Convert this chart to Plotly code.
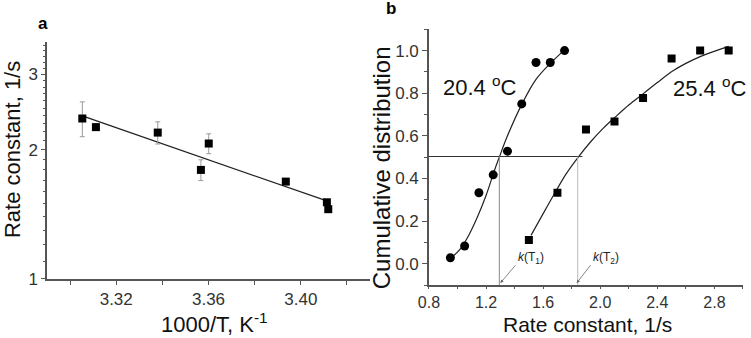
import numpy as np
import plotly.graph_objects as go

# ---------------- Panel a data ----------------
inv_T = [3.3053, 3.3112, 3.3380, 3.3567, 3.3601, 3.3935, 3.4113, 3.4119]
rate_a = [2.365, 2.258, 2.193, 1.795, 2.068, 1.686, 1.509, 1.454]
rate_a_err = [0.22, 0.04, 0.13, 0.10, 0.11, 0.0, 0.02, 0.0]

# ---------------- Panel b data ----------------
k_20 = [0.95, 1.05, 1.15, 1.25, 1.35, 1.45, 1.55, 1.65, 1.75]
cdf_20 = [0.028, 0.083, 0.333, 0.417, 0.528, 0.75, 0.944, 0.944, 1.0]
k_25 = [1.5, 1.7, 1.9, 2.1, 2.3, 2.5, 2.7, 2.9]
cdf_25 = [0.111, 0.333, 0.630, 0.667, 0.778, 0.963, 1.0, 1.0]

# fitted curves
fit20_x = [0.96, 1.02, 1.08, 1.14, 1.20, 1.26, 1.293, 1.35, 1.452, 1.55, 1.65, 1.745]
fit20_y = [0.03, 0.07, 0.135, 0.22, 0.32, 0.44, 0.50, 0.60, 0.75, 0.865, 0.94, 1.0]
fit25_x = [1.515, 1.60, 1.683, 1.76, 1.846, 1.93, 2.02, 2.10, 2.20, 2.30, 2.40, 2.51, 2.60, 2.70, 2.90]
fit25_y = [0.133, 0.235, 0.333, 0.42, 0.50, 0.57, 0.635, 0.685, 0.745, 0.797, 0.85, 0.905, 0.94, 0.972, 1.02]

k_T1 = 1.293
k_T2 = 1.842
half_level = 0.503

FONT = "Liberation Sans, Arial, sans-serif"
AX = "#555555"

# regression (Arrhenius) line for panel a
slope, icpt = np.polyfit(inv_T, np.log10(rate_a), 1)
line_x = np.array([min(inv_T), max(inv_T)])
line_y = 10 ** (icpt + slope * line_x)

fig = go.Figure()

fig.add_trace(go.Scatter(x=line_x, y=line_y, mode="lines",
                         line=dict(color="#222222", width=1.3),
                         xaxis="x", yaxis="y", showlegend=False))
fig.add_trace(go.Scatter(x=inv_T, y=rate_a, mode="markers",
                         marker=dict(symbol="square", size=8, color="black"),
                         error_y=dict(type="data", array=rate_a_err, color="#999999",
                                      thickness=1, width=2.5),
                         xaxis="x", yaxis="y", showlegend=False))

fig.add_trace(go.Scatter(x=fit20_x, y=fit20_y, mode="lines", line_shape="spline",
                         line=dict(color="#222222", width=1.2),
                         xaxis="x2", yaxis="y2", showlegend=False))
fig.add_trace(go.Scatter(x=fit25_x, y=fit25_y, mode="lines", line_shape="spline",
                         line=dict(color="#222222", width=1.2),
                         xaxis="x2", yaxis="y2", showlegend=False))
fig.add_trace(go.Scatter(x=k_20, y=cdf_20, mode="markers",
                         marker=dict(symbol="circle", size=9, color="black"),
                         xaxis="x2", yaxis="y2", showlegend=False))
fig.add_trace(go.Scatter(x=k_25, y=cdf_25, mode="markers",
                         marker=dict(symbol="square", size=8, color="black"),
                         xaxis="x2", yaxis="y2", showlegend=False))

shapes = [
    dict(type="line", xref="x2", yref="y2", x0=0.8, x1=1.875, y0=half_level, y1=half_level,
         line=dict(color="#333333", width=1)),
    dict(type="line", xref="x2", yref="y2", x0=k_T1, x1=k_T1, y0=-0.1, y1=half_level,
         line=dict(color="#888888", width=1)),
    dict(type="line", xref="x2", yref="y2", x0=k_T2, x1=k_T2, y0=-0.1, y1=half_level,
         line=dict(color="#bbbbbb", width=1)),
]

tickfont = dict(family=FONT, size=17, color="#333333")
common = dict(showline=True, linecolor=AX, linewidth=1.5, ticks="outside", tickcolor=AX,
              tickwidth=1, showgrid=False, zeroline=False, tickfont=tickfont,
              automargin=False)

minor_log = [round(v, 1) for v in list(np.arange(1.1, 2.0, 0.1)) + list(np.arange(2.1, 3.0, 0.1)) + list(np.arange(3.1, 3.6, 0.1))]


def ann(text, x, y, ref="paper", size=22, angle=0, color="#111"):
    return dict(text=text, x=x, y=y, xref=ref if ref == "paper" else "x2",
                yref=ref if ref == "paper" else "y2", xanchor="center", yanchor="middle",
                textangle=angle, showarrow=False, font=dict(family=FONT, size=size, color=color))


annotations = [
    ann("Rate constant, 1/s", 0.016, 0.556, angle=-90, size=22),
    ann("1000/T, K<sup>-1</sup>", 0.285, 0.044, size=22),
    ann("Cumulative distribution", 0.509, 0.503, angle=-90, size=24),
    ann("Rate constant, 1/s", 0.782, 0.041, size=21),
    ann("<b>a</b>", 0.057, 0.929, size=17, color="black"),
    ann("<b>b</b>", 0.521, 0.976, size=17, color="black"),
    ann("20.4 <sup>o</sup>C", 1.157, 0.836, ref="data", size=22),
    ann("25.4 <sup>o</sup>C", 2.769, 0.831, ref="data", size=22),
    ann("<i>k</i>(T<sub>1</sub>)", 1.513, 0.025, ref="data", size=12, color="#222"),
    ann("<i>k</i>(T<sub>2</sub>)", 2.039, 0.025, ref="data", size=12, color="#222"),
    dict(text="", x=1.30, y=-0.091, xref="x2", yref="y2", ax=1.415, ay=0.0,
         axref="x2", ayref="y2", showarrow=True, arrowhead=2, arrowsize=0.8,
         arrowwidth=0.8, arrowcolor="#666666"),
    dict(text="", x=1.835, y=-0.091, xref="x2", yref="y2", ax=1.94, ay=0.0,
         axref="x2", ayref="y2", showarrow=True, arrowhead=2, arrowsize=0.8,
         arrowwidth=0.8, arrowcolor="#666666"),
]

common_b = dict(common)
common_b["tickfont"] = dict(family=FONT, size=16, color="#333333")

fig.update_layout(
    width=751, height=338, margin=dict(l=0, r=0, t=0, b=0, autoexpand=False),
    paper_bgcolor="white", plot_bgcolor="white",
    font=dict(family=FONT),
    xaxis=dict(domain=[0.0626, 0.4927], range=[3.29, 3.43], anchor="y",
               tickvals=[3.32, 3.36, 3.40], ticktext=["3.32", "3.36", "3.40"], ticklen=4,
               minor=dict(tickvals=[3.30, 3.34, 3.38, 3.42], ticklen=4, ticks="outside",
                          tickcolor=AX), **common),
    yaxis=dict(domain=[0.1746, 0.8757], type="log", range=[0, 0.552], anchor="x",
               tickvals=[1, 2, 3], ticktext=["1", "2", "3"], ticklen=4,
               minor=dict(tickvals=minor_log, ticklen=2.5, ticks="outside", tickcolor=AX),
               **common),
    xaxis2=dict(domain=[0.5712, 0.9893], range=[0.8, 3.0], anchor="y2",
                tick0=0.8, dtick=0.4, tickformat=".1f", ticklen=2,
                minor=dict(dtick=0.2, tick0=0.8, ticklen=2, ticks="outside", tickcolor=AX),
                **common_b),
    yaxis2=dict(domain=[0.1568, 0.9133], range=[-0.1, 1.1], anchor="x2",
                tickvals=[0, 0.2, 0.4, 0.6, 0.8, 1.0], tickformat=".1f", ticklen=5,
                minor=dict(dtick=0.1, tick0=0, ticklen=3, ticks="outside", tickcolor=AX),
                **common),
    shapes=shapes,
    annotations=annotations,
)

fig.write_html("out.html")
